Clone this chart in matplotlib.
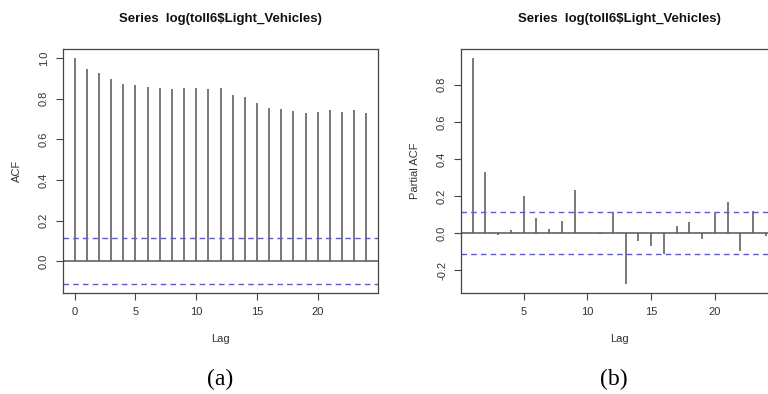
import matplotlib
matplotlib.use("Agg")
import matplotlib.pyplot as plt

# ACF / PACF values
acf_lags = list(range(0, 25))
acf_vals = [1.000, 0.946, 0.929, 0.898, 0.875, 0.870, 0.858, 0.852, 0.847, 0.855,
            0.852, 0.850, 0.852, 0.817, 0.807, 0.779, 0.756, 0.748, 0.738, 0.730,
            0.735, 0.745, 0.733, 0.745, 0.730]

pacf_lags = list(range(1, 25))
pacf_vals = [0.946, 0.328, -0.009, 0.018, 0.198, 0.081, 0.023, 0.063, 0.231, 0.003,
             -0.003, 0.115, -0.274, -0.041, -0.068, -0.112, 0.038, 0.058, -0.032,
             0.106, 0.168, -0.099, 0.121, -0.018]

conf = 0.112
title = "Series  log(toll6$Light_Vehicles)"

plt.rcParams['font.family'] = ['Liberation Sans', 'DejaVu Sans']

W, H = 768, 394
fig = plt.figure(figsize=(7.68, 3.94), dpi=100)


def r_axes(rect, lags, vals, ylabel, xticks, yticks, xlim, ylim):
    l, t, r, b = rect
    ax = fig.add_axes([l / W, 1 - b / H, (r - l) / W, (b - t) / H])
    ax.vlines(lags, 0, vals, color='#555555', lw=1.1)
    ax.axhline(0, color='#555555', lw=1.1)
    ax.axhline(conf, color='#5555ff', lw=1.0, ls=(0, (4, 3)))
    ax.axhline(-conf, color='#5555ff', lw=1.0, ls=(0, (4, 3)))
    ax.set_xlim(*xlim)
    ax.set_ylim(*ylim)
    ax.set_xticks(xticks)
    ax.set_yticks(yticks)
    ax.set_yticklabels([f"{v:.1f}" for v in yticks], rotation=90, va='center')
    ax.tick_params(length=5, width=0.8, color='#444444', labelsize=8,
                   labelcolor='#333333', pad=5)
    for s in ax.spines.values():
        s.set_color('#444444')
        s.set_linewidth(0.9)
    ax.set_xlabel("Lag", fontsize=8, color='#333333', labelpad=12)
    ax.set_ylabel(ylabel, fontsize=8, color='#333333', labelpad=12)
    # title centred over the (possibly clipped) plot box
    fig.text((l + r) / 2 / W, 1 - 19 / H, title, fontsize=9.5, fontweight='bold',
             ha='center', va='center', color='#111111')
    return ax


ax1 = r_axes((63, 49, 378, 293), acf_lags, acf_vals, "ACF",
             [0, 5, 10, 15, 20], [0.0, 0.2, 0.4, 0.6, 0.8, 1.0],
             (-0.96, 24.96), (-0.157, 1.045))
ax2 = r_axes((461, 49, 777.5, 293), pacf_lags, pacf_vals, "Partial ACF",
             [5, 10, 15, 20], [-0.2, 0.0, 0.2, 0.4, 0.6, 0.8],
             (0.08, 24.92), (-0.323, 0.993))

fig.text(220 / W, 1 - 379 / H, "(a)", fontsize=17, ha='center', va='center',
         family=['Liberation Serif'])
fig.text(614 / W, 1 - 379 / H, "(b)", fontsize=17, ha='center', va='center',
         family=['Liberation Serif'])

fig.savefig("out.png", dpi=100)
